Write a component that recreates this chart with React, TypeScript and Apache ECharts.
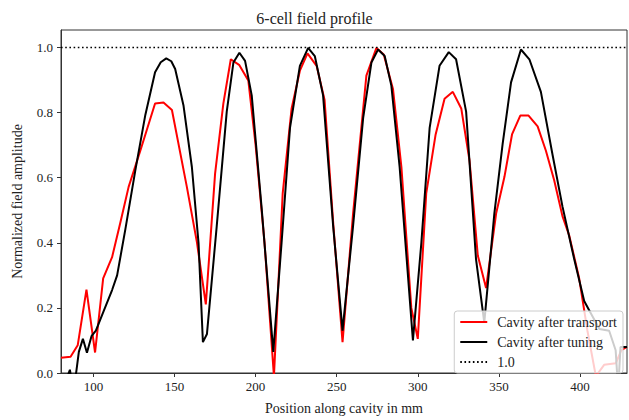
import React, { useEffect, useRef } from "react";
import * as echarts from "echarts";

const titleText = "6-cell field profile";
const xAxisName = "Position along cavity in mm";
const yAxisName = "Normalized field amplitude";
const seriesNames = ["Cavity after transport", "Cavity after tuning", "1.0"];

const transportX = [80, 85.9, 90.3, 95.7, 101, 106, 111.5, 116.5, 121.7, 128.9, 138, 143.2, 148.4, 157.6, 163.8, 169.3, 175, 180.1, 184.7, 190, 195.5, 200, 205.5, 211.3, 216.7, 222.2, 227.3, 232, 237.6, 242.5, 248, 253.6, 260.1, 268.3, 274.5, 279, 284.7, 289.9, 296, 300, 305.2, 311, 316.5, 321.6, 326.8, 331.9, 337, 342.1, 348.3, 353.4, 358.1, 363.2, 368.3, 373.9, 379, 384.1, 389.2, 393.4, 399.5, 404.6, 409.8, 414.9, 422.1, 425.5, 429];
const transportY = [0.047, 0.05, 0.085, 0.256, 0.063, 0.291, 0.356, 0.46, 0.572, 0.683, 0.828, 0.831, 0.808, 0.572, 0.402, 0.211, 0.612, 0.828, 0.964, 0.946, 0.899, 0.7, 0.4, -0.01, 0.552, 0.813, 0.929, 0.982, 0.944, 0.84, 0.45, 0.095, 0.49, 0.914, 0.999, 0.979, 0.873, 0.633, 0.2, 0.105, 0.552, 0.733, 0.843, 0.864, 0.813, 0.653, 0.361, 0.261, 0.49, 0.602, 0.733, 0.791, 0.791, 0.758, 0.683, 0.592, 0.482, 0.422, 0.291, 0.13, -0.01, 0.025, 0.03, 0.07, 0.08];

const tuningX = [80, 84, 85.5, 87, 88.8, 91, 93.5, 96, 98.8, 101.5, 106.3, 111.5, 114.6, 119.7, 125.8, 132, 138, 141.5, 144.9, 148, 150.4, 155.5, 160.7, 164.8, 167.5, 170, 176, 182.2, 186.3, 190, 193.5, 197.6, 203.8, 210.9, 216, 221.2, 227.3, 232.4, 236.5, 241.6, 247.8, 253.6, 260.1, 266.3, 271.4, 275.5, 279.6, 283.7, 288.8, 297, 302.2, 307.3, 313.4, 319.1, 323.6, 329.8, 335.9, 341, 347.2, 352.3, 357.5, 363.6, 368.8, 375.9, 383, 389.2, 396.4, 402.6, 406, 412, 418, 422, 423, 424, 425, 429];
const tuningY = [-0.06, -0.01, 0.01, -0.04, -0.02, 0.065, 0.105, 0.062, 0.113, 0.13, 0.19, 0.255, 0.3, 0.442, 0.622, 0.793, 0.924, 0.955, 0.967, 0.958, 0.934, 0.823, 0.633, 0.4, 0.095, 0.12, 0.45, 0.803, 0.954, 0.984, 0.959, 0.853, 0.502, 0.065, 0.4, 0.753, 0.944, 0.999, 0.974, 0.853, 0.452, 0.13, 0.452, 0.783, 0.954, 0.994, 0.974, 0.883, 0.633, 0.1, 0.4, 0.753, 0.944, 0.986, 0.964, 0.803, 0.35, 0.155, 0.49, 0.703, 0.893, 0.994, 0.964, 0.864, 0.673, 0.512, 0.351, 0.221, 0.19, 0.135, 0.13, 0.07, -0.01, -0.01, 0.08, 0.08];

const refX = [80, 429];
const refY = [1.0, 1.0];

const FONT = "Liberation Serif";

export default function App() {
  const ref = useRef<HTMLDivElement>(null);
  useEffect(() => {
    document.body.style.margin = "0";
    const chart = echarts.init(ref.current!, null, { renderer: "svg" });
    const pairs = (xs: number[], ys: number[]) => xs.map((x, i) => [x, ys[i]]);
    chart.setOption({
      animation: false,
      backgroundColor: "#ffffff",
      textStyle: { fontFamily: FONT },
      title: {
        text: titleText,
        left: "center",
        top: 5,
        textStyle: { fontFamily: FONT, fontSize: 16, fontWeight: "normal", color: "#222" },
      },
      grid: {
        left: 61,
        right: 2,
        top: 30,
        bottom: 40,
        show: true,
        borderColor: "#333",
        borderWidth: 1,
        backgroundColor: "transparent",
      },
      xAxis: {
        type: "value",
        min: 80,
        max: 429,
        splitNumber: 7,
        name: xAxisName,
        nameLocation: "middle",
        nameGap: 28,
        nameTextStyle: { fontFamily: FONT, fontSize: 14, color: "#222" },
        axisLine: { onZero: false, lineStyle: { color: "#333", width: 1 } },
        axisTick: { show: true, inside: false, length: 4, lineStyle: { color: "#333" } },
        axisLabel: {
          showMinLabel: false,
          showMaxLabel: false,
          margin: 7,
          fontFamily: FONT,
          fontSize: 13,
          color: "#222",
          formatter: (v: number) => (Math.abs(v % 50) < 1e-6 ? String(Math.round(v)) : ""),
        },
        splitLine: { show: false },
      },
      yAxis: {
        type: "value",
        min: 0,
        max: 1.054,
        interval: 0.2,
        name: yAxisName,
        nameLocation: "middle",
        nameGap: 37,
        nameTextStyle: { fontFamily: FONT, fontSize: 14, color: "#222" },
        axisLine: { show: true, lineStyle: { color: "#333", width: 1 } },
        axisTick: { show: true, inside: false, length: 4, lineStyle: { color: "#333" } },
        axisLabel: {
          showMaxLabel: false,
          margin: 8,
          fontFamily: FONT,
          fontSize: 13,
          color: "#222",
          formatter: (v: number) => v.toFixed(1),
        },
        splitLine: { show: false },
      },
      legend: {
        orient: "vertical",
        right: 6,
        bottom: 47,
        itemWidth: 27,
        itemHeight: 14,
        itemGap: 6,
        padding: [4, 6, 4, 5],
        backgroundColor: "rgba(255,255,255,0.8)",
        borderColor: "#cccccc",
        borderWidth: 1,
        borderRadius: 3,
        itemStyle: { opacity: 0 },
        textStyle: { fontFamily: FONT, fontSize: 14, color: "#222", padding: [0, 0, 0, 5] },
        data: seriesNames,
      },
      series: [
        {
          name: seriesNames[0],
          type: "line",
          symbol: "none",
          data: pairs(transportX, transportY),
          lineStyle: { color: "#ff0000", width: 2 },
          itemStyle: { color: "#ff0000" },
          z: 2,
        },
        {
          name: seriesNames[1],
          type: "line",
          symbol: "none",
          data: pairs(tuningX, tuningY),
          lineStyle: { color: "#000000", width: 2 },
          itemStyle: { color: "#000000" },
          z: 3,
        },
        {
          name: seriesNames[2],
          type: "line",
          symbol: "none",
          data: pairs(refX, refY),
          lineStyle: { color: "#000000", width: 1.6, type: [1.6, 2.6] },
          itemStyle: { color: "#000000" },
          z: 4,
        },
      ],
    });
    return () => chart.dispose();
  }, []);
  return <div ref={ref} style={{ width: 629, height: 420, position: "absolute", left: 0, top: 0 }} />;
}
